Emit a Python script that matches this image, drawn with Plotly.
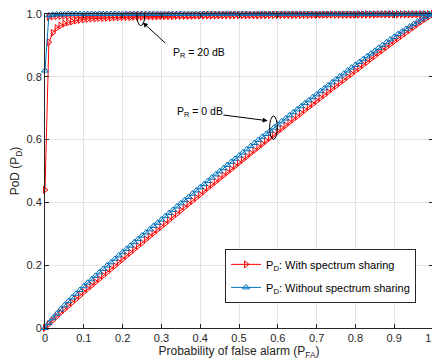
import plotly.graph_objects as go

pfa = [0.00, 0.01, 0.02, 0.03, 0.04, 0.05, 0.06, 0.07, 0.08, 0.09,
       0.10, 0.11, 0.12, 0.13, 0.14, 0.15, 0.16, 0.17, 0.18, 0.19,
       0.20, 0.21, 0.22, 0.23, 0.24, 0.25, 0.26, 0.27, 0.28, 0.29,
       0.30, 0.31, 0.32, 0.33, 0.34, 0.35, 0.36, 0.37, 0.38, 0.39,
       0.40, 0.41, 0.42, 0.43, 0.44, 0.45, 0.46, 0.47, 0.48, 0.49,
       0.50, 0.51, 0.52, 0.53, 0.54, 0.55, 0.56, 0.57, 0.58, 0.59,
       0.60, 0.61, 0.62, 0.63, 0.64, 0.65, 0.66, 0.67, 0.68, 0.69,
       0.70, 0.71, 0.72, 0.73, 0.74, 0.75, 0.76, 0.77, 0.78, 0.79,
       0.80, 0.81, 0.82, 0.83, 0.84, 0.85, 0.86, 0.87, 0.88, 0.89,
       0.90, 0.91, 0.92, 0.93, 0.94, 0.95, 0.96, 0.97, 0.98, 0.99,
       1.00]

# P_R = 20 dB, with spectrum sharing (slow rising curve)
pd_share_20a = [0.440, 0.910, 0.940, 0.955, 0.963, 0.969, 0.973, 0.976, 0.979, 0.981,
                0.983, 0.984, 0.985, 0.986, 0.987, 0.987, 0.988, 0.988, 0.989, 0.989,
                0.990, 0.990, 0.990, 0.991, 0.991, 0.991, 0.992, 0.992, 0.992, 0.992,
                0.993, 0.993, 0.993, 0.993, 0.994, 0.994, 0.994, 0.994, 0.994, 0.995,
                0.995, 0.995, 0.995, 0.995, 0.995, 0.996, 0.996, 0.996, 0.996, 0.996,
                0.996, 0.996, 0.996, 0.996, 0.996, 0.996, 0.997, 0.997, 0.997, 0.997,
                0.997, 0.997, 0.997, 0.997, 0.997, 0.997, 0.997, 0.997, 0.997, 0.997,
                0.997, 0.998, 0.998, 0.998, 0.998, 0.998, 0.998, 0.998, 0.998, 0.998,
                0.998, 0.998, 0.998, 0.998, 0.998, 0.998, 0.999, 0.999, 0.999, 0.999,
                0.999, 0.999, 0.999, 0.999, 0.999, 0.999, 0.999, 0.999, 0.999, 0.999,
                1.000]
# P_R = 20 dB, with spectrum sharing (near-top curve)
pd_share_20b = [None, 0.990, 0.992, 0.993, 0.993, 0.994, 0.994, 0.994, 0.994, 0.994,
                0.994, 0.995, 0.995, 0.995, 0.995, 0.995, 0.995, 0.995, 0.995, 0.995,
                0.995, 0.996, 0.996, 0.996, 0.996, 0.996, 0.996, 0.996, 0.996, 0.996,
                0.996, 0.996, 0.996, 0.996, 0.996, 0.996, 0.996, 0.996, 0.996, 0.996,
                0.996, 0.997, 0.997, 0.997, 0.997, 0.997, 0.997, 0.997, 0.997, 0.997,
                0.997, 0.997, 0.997, 0.997, 0.997, 0.997, 0.997, 0.997, 0.997, 0.997,
                0.997, 0.998, 0.998, 0.998, 0.998, 0.998, 0.998, 0.998, 0.998, 0.998,
                0.998, 0.998, 0.998, 0.998, 0.998, 0.998, 0.998, 0.998, 0.998, 0.998,
                0.998, 0.999, 0.999, 0.999, 0.999, 0.999, 0.999, 0.999, 0.999, 0.999,
                0.999, 0.999, 0.999, 0.999, 0.999, 0.999, 0.999, 0.999, 0.999, 0.999,
                1.000]
# P_R = 0 dB, with spectrum sharing
pd_share_0 = [0.000, 0.012, 0.024, 0.036, 0.048, 0.059, 0.070, 0.081, 0.092, 0.103,
              0.114, 0.125, 0.135, 0.146, 0.156, 0.167, 0.177, 0.188, 0.198, 0.209,
              0.219, 0.230, 0.240, 0.251, 0.261, 0.271, 0.282, 0.292, 0.302, 0.313,
              0.323, 0.333, 0.344, 0.354, 0.364, 0.374, 0.385, 0.395, 0.405, 0.415,
              0.425, 0.436, 0.446, 0.456, 0.466, 0.476, 0.486, 0.496, 0.506, 0.516,
              0.526, 0.536, 0.546, 0.556, 0.566, 0.576, 0.586, 0.596, 0.606, 0.616,
              0.626, 0.635, 0.645, 0.655, 0.665, 0.674, 0.684, 0.694, 0.704, 0.713,
              0.723, 0.733, 0.742, 0.752, 0.762, 0.771, 0.781, 0.790, 0.800, 0.809,
              0.819, 0.828, 0.838, 0.847, 0.857, 0.866, 0.876, 0.885, 0.894, 0.904,
              0.913, 0.922, 0.931, 0.940, 0.949, 0.958, 0.967, 0.976, 0.984, 0.992,
              1.000]
# P_R = 20 dB, without spectrum sharing
pd_noshare_20 = [0.820, 0.996, 0.998, 0.999, 0.999, 0.999, 1.000, 1.000, 1.000, 1.000,
                 1.000, 1.000, 1.000, 1.000, 1.000, 1.000, 1.000, 1.000, 1.000, 1.000,
                 1.000, 1.000, 1.000, 1.000, 1.000, 1.000, 1.000, 1.000, 1.000, 1.000,
                 1.000, 1.000, 1.000, 1.000, 1.000, 1.000, 1.000, 1.000, 1.000, 1.000,
                 1.000, 1.000, 1.000, 1.000, 1.000, 1.000, 1.000, 1.000, 1.000, 1.000,
                 1.000, 1.000, 1.000, 1.000, 1.000, 1.000, 1.000, 1.000, 1.000, 1.000,
                 1.000, 1.000, 1.000, 1.000, 1.000, 1.000, 1.000, 1.000, 1.000, 1.000,
                 1.000, 1.000, 1.000, 1.000, 1.000, 1.000, 1.000, 1.000, 1.000, 1.000,
                 1.000, 1.000, 1.000, 1.000, 1.000, 1.000, 1.000, 1.000, 1.000, 1.000,
                 1.000, 1.000, 1.000, 1.000, 1.000, 1.000, 1.000, 1.000, 1.000, 1.000,
                 1.000]
# P_R = 0 dB, without spectrum sharing
pd_noshare_0 = [0.000, 0.016, 0.031, 0.045, 0.059, 0.072, 0.085, 0.097, 0.109, 0.121,
                0.133, 0.144, 0.155, 0.166, 0.177, 0.188, 0.199, 0.209, 0.220, 0.231,
                0.241, 0.252, 0.262, 0.273, 0.283, 0.294, 0.304, 0.314, 0.325, 0.335,
                0.345, 0.356, 0.366, 0.376, 0.387, 0.397, 0.407, 0.417, 0.428, 0.438,
                0.448, 0.458, 0.468, 0.479, 0.489, 0.499, 0.509, 0.519, 0.529, 0.539,
                0.549, 0.559, 0.569, 0.579, 0.589, 0.599, 0.609, 0.618, 0.628, 0.638,
                0.648, 0.658, 0.667, 0.677, 0.687, 0.696, 0.706, 0.716, 0.725, 0.735,
                0.744, 0.754, 0.763, 0.773, 0.782, 0.792, 0.801, 0.810, 0.820, 0.829,
                0.838, 0.847, 0.856, 0.865, 0.874, 0.883, 0.892, 0.901, 0.910, 0.919,
                0.927, 0.936, 0.944, 0.952, 0.960, 0.968, 0.976, 0.983, 0.990, 0.996,
                1.000]

x_ticks = [0, 0.1, 0.2, 0.3, 0.4, 0.5, 0.6, 0.7, 0.8, 0.9, 1.0]
x_tick_text = ["0", "0.1", "0.2", "0.3", "0.4", "0.5", "0.6", "0.7", "0.8", "0.9", "1.0"]
y_ticks = [0, 0.2, 0.4, 0.6, 0.8, 1.0]
y_tick_text = ["0", "0.2", "0.4", "0.6", "0.8", "1.0"]

RED = "#FF0000"
BLUE = "#0072BD"
FONT = "Liberation Sans, Arial, Helvetica, sans-serif"

fig = go.Figure()

red_marker = dict(symbol="triangle-right-open", size=6, color=RED, line=dict(width=1, color=RED))
blue_marker = dict(symbol="triangle-up-open", size=6, color=BLUE, line=dict(width=1, color=BLUE))

for i, ys in enumerate([pd_share_20a, pd_share_20b, pd_share_0]):
    fig.add_trace(go.Scatter(
        x=pfa, y=ys, mode="lines+markers",
        line=dict(color=RED, width=1), marker=red_marker,
        name="P<sub>D</sub>: With spectrum sharing",
        showlegend=(i == 0), legendgroup="share", cliponaxis=False))

for i, ys in enumerate([pd_noshare_20, pd_noshare_0]):
    fig.add_trace(go.Scatter(
        x=pfa, y=ys, mode="lines+markers",
        line=dict(color=BLUE, width=1), marker=blue_marker,
        name="P<sub>D</sub>: Without spectrum sharing",
        showlegend=(i == 0), legendgroup="noshare", cliponaxis=False))

# ellipses
fig.add_shape(type="circle", xref="x", yref="y", x0=0.237, x1=0.257, y0=0.963, y1=1.027,
              line=dict(color="black", width=1))
fig.add_shape(type="circle", xref="x", yref="y", x0=0.579, x1=0.599, y0=0.601, y1=0.675,
              line=dict(color="black", width=1))

# arrows
fig.add_annotation(x=0.252, y=0.973, ax=0.314, ay=0.903, xref="x", yref="y", axref="x", ayref="y",
                   showarrow=True, arrowhead=2, arrowsize=1, arrowwidth=1, arrowcolor="black", text="")
fig.add_annotation(x=0.574, y=0.660, ax=0.456, ay=0.679, xref="x", yref="y", axref="x", ayref="y",
                   showarrow=True, arrowhead=2, arrowsize=1, arrowwidth=1, arrowcolor="black", text="")
fig.add_annotation(x=0.326, y=0.875, xref="x", yref="y", xanchor="left", yanchor="middle",
                   text="P<sub>R</sub> = 20 dB", showarrow=False, font=dict(size=10.5, color="black", family=FONT))
fig.add_annotation(x=0.334, y=0.687, xref="x", yref="y", xanchor="left", yanchor="middle",
                   text="P<sub>R</sub> = 0 dB", showarrow=False, font=dict(size=10.5, color="black", family=FONT))

axis_common = dict(
    showline=True, linecolor="#262626", linewidth=1, mirror="allticks",
    ticks="inside", ticklen=4, tickcolor="#262626",
    showgrid=True, gridcolor="#E3E3E3", gridwidth=1, zeroline=False,
    tickfont=dict(size=11, color="#262626", family=FONT),
    ticklabeloverflow="allow",
)

fig.update_xaxes(range=[0, 1], tickvals=x_ticks, ticktext=x_tick_text,
                 title=dict(text="Probability of false alarm (P<sub>FA</sub>)",
                            font=dict(size=12, color="#262626", family=FONT), standoff=2),
                 **axis_common)
fig.update_yaxes(range=[0, 1], tickvals=y_ticks, ticktext=y_tick_text,
                 title=dict(text="PoD (P<sub>D</sub>)",
                            font=dict(size=12, color="#262626", family=FONT), standoff=8),
                 **axis_common)

# page body has an 8px margin, so the figure is offset by 8px in the window
fig.update_layout(
    width=432, height=352,
    margin=dict(l=37, r=6.5, t=6, b=32, autoexpand=False),
    paper_bgcolor="white", plot_bgcolor="white",
    font=dict(family=FONT, color="#262626"),
    legend=dict(x=0.464, y=0.252, xanchor="left", yanchor="top",
                bgcolor="white", bordercolor="#262626", borderwidth=1,
                font=dict(size=11, color="black", family=FONT),
                tracegroupgap=4, itemwidth=30),
)

fig.write_html("out.html")
